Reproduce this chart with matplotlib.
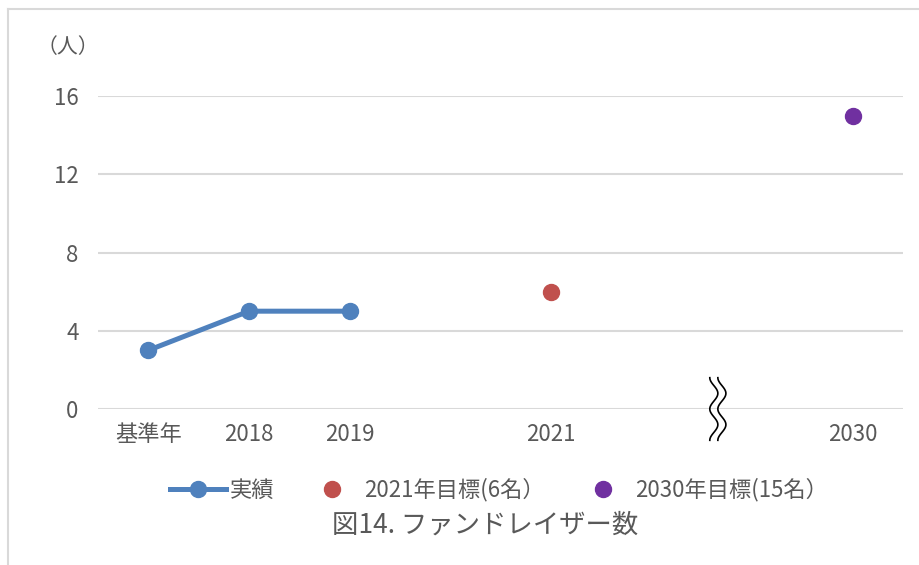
import numpy as np
import matplotlib
matplotlib.use('Agg')
import matplotlib.pyplot as plt
from matplotlib.lines import Line2D

plt.rcParams['font.family'] = ['Noto Sans CJK JP', 'DejaVu Sans']

# data
categories = ['基準年', '2018', '2019', '', '2021', '', '', '2030']
actual_x = ['基準年', '2018', '2019']
actual = [3, 5, 5]
target2021_x = '2021'
target2021 = 6
target2030_x = '2030'
target2030 = 15
yticks = [0, 4, 8, 12, 16]

grey = '#595959'
blue = '#4F81BD'
red = '#C0504D'
purple = '#7030A0'

W, H = 919, 565
fig = plt.figure(figsize=(W / 100, H / 100), dpi=100)
ax = fig.add_axes([98 / W, 1 - 409 / H, (903 - 98) / W, (409 - 96) / H])

pos = {c: i for i, c in enumerate(categories) if c}
ax.plot([pos[c] for c in actual_x], actual, color=blue, lw=3.6, marker='o',
        ms=11.5, label='実績', zorder=3)
ax.plot([pos[target2021_x]], [target2021], ls='none', marker='o', ms=11.5,
        color=red, label='2021年目標(6名）', zorder=3)
ax.plot([pos[target2030_x]], [target2030], ls='none', marker='o', ms=11.5,
        color=purple, label='2030年目標(15名）', zorder=3)

ax.set_xlim(-0.5, len(categories) - 0.5)
ax.set_ylim(0, 16)
ax.set_xticks(range(len(categories)))
ax.set_xticklabels(categories)
ax.set_yticks(yticks)
ax.grid(axis='y', color='#d9d9d9', lw=1.5)
ax.set_axisbelow(True)
for s in ax.spines.values():
    s.set_visible(False)
ax.tick_params(length=0, labelsize=16, labelcolor=grey)
ax.tick_params(axis='x', pad=10)
ax.tick_params(axis='y', pad=14)

# axis break mark
t = np.linspace(0, 1, 100)
yy = 1.6 - 3.2 * t
for off in (0, 0.08):
    xx = 5.62 + off - 0.04 * np.cos(2 * np.pi * 2 * t)
    ax.plot(xx, yy, color='black', lw=1.2, clip_on=False, zorder=4)

fig.text(68 / W, 1 - 47 / H, '（人）', fontsize=15, color=grey,
         ha='center', va='center')

fig.legend(loc='center', bbox_to_anchor=(499 / W, 1 - 490 / H), ncol=3,
           frameon=False, fontsize=16, labelcolor=grey, handlelength=2.5,
           handletextpad=0.2, columnspacing=1.35, borderaxespad=0)

fig.text(485 / W, 1 - 525 / H, '図14. ファンドレイザー数', fontsize=19,
         color=grey, ha='center', va='center')

# outer frame (top and left edges)
fig.add_artist(Line2D([8 / W, 1], [1 - 9 / H, 1 - 9 / H], color='#d9d9d9', lw=1.5))
fig.add_artist(Line2D([8 / W, 8 / W], [0, 1 - 9 / H], color='#d9d9d9', lw=1.5))

fig.savefig('out.png', dpi=100)
